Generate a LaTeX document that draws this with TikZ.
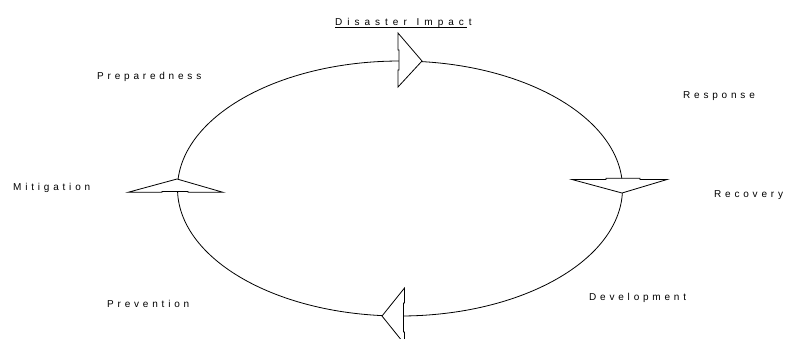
\documentclass[tikz,border=0pt]{standalone}
\usepackage{fontspec}
\newfontfamily\lblfont[LetterSpace=38]{Liberation Sans}
\newfontfamily\ttlfont[LetterSpace=50]{Liberation Sans}
\begin{document}
\begin{tikzpicture}[x=1bp,y=-1bp,
  lbl/.style={inner sep=0pt,anchor=base west,font=\fontsize{10bp}{12bp}\lblfont},
  ttl/.style={inner sep=0pt,anchor=base west,font=\fontsize{10bp}{12bp}\ttlfont},
  ring/.style={draw=black,line width=0.8bp},
  arrowhd/.style={draw=black,fill=white,line width=0.8bp,line join=miter}]
\useasboundingbox (0,0) rectangle (788,338);
\clip (0,0) rectangle (788,338);
\coordinate (c) at (400,188.5);
% cycle
\draw[ring] (c) ellipse [x radius=222.5, y radius=127.5];
% arrow heads
\draw[arrowhd] (398,33) -- (422,61) -- (398,87) -- (398,70) -- (399,70) -- (399,50) -- (398,50) -- cycle;
\draw[arrowhd] (572,179.5) -- (622,193) -- (667,179.5) -- (640,179.5) -- (640,178.3) -- (606,178.3) -- (606,179.5) -- cycle;
\draw[arrowhd] (382,316) -- (404.5,288) -- (404.5,303) -- (403.5,303) -- (403.5,332) -- (404.5,332) -- (404.5,344) -- cycle;
\draw[arrowhd] (128,192.3) -- (177,179) -- (223,192.3) -- (188,192.3) -- (188,191.5) -- (162,191.5) -- (162,192.3) -- cycle;
% labels
\node[ttl] (title) at (335,25) {Disaster\hspace{2bp} Impact};
\draw[line width=0.8bp] ([yshift=-2.3bp]title.base west) -- ([yshift=-2.3bp,xshift=-5bp]title.base east);
\node[lbl] (prep) at (97,79) {Preparedness};
\node[lbl] (resp) at (683,98) {Response};
\node[lbl] (miti) at (13,190) {Mitigation};
\node[lbl] (reco) at (714,197) {Recovery};
\node[lbl] (prev) at (107,307) {Prevention};
\node[lbl] (deve) at (589,300) {Development};
\end{tikzpicture}
\end{document}
